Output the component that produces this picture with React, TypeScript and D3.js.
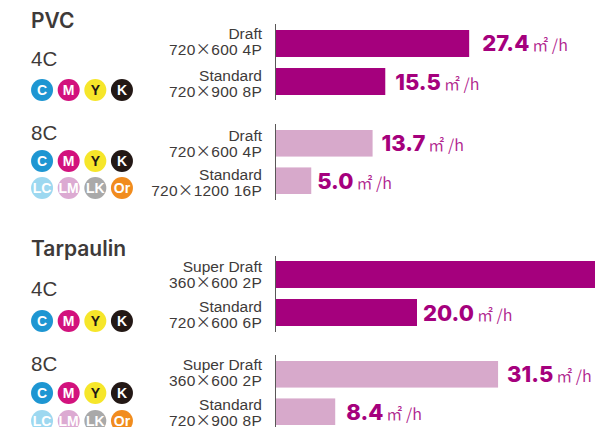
import * as d3 from "d3"

// Speeds in m2/h. The Tarpaulin 4C Super Draft bar runs off the page.
const rowLabels = [
  ["Draft", "720×600 4P"],
  ["Standard", "720×900 8P"],
  ["Draft", "720×600 4P"],
  ["Standard", "720×1200 16P"],
  ["Super Draft", "360×600 2P"],
  ["Standard", "720×600 6P"],
  ["Super Draft", "360×600 2P"],
  ["Standard", "720×900 8P"],
]
const speeds = [27.4, 15.5, 13.7, 5.0, 63.0, 20.0, 31.5, 8.4]
const clippedRows = [4]

const inkNames = ["C", "M", "Y", "K"]
const extraInkNames = ["LC", "LM", "LK", "Or"]
const inkColors: Record<string, string> = {
  C: "#1e96d2",
  M: "#d2127d",
  Y: "#f6e62a",
  K: "#231815",
  LC: "#9dd8f0",
  LM: "#dcaad2",
  LK: "#a9a9a9",
  Or: "#f18c1e",
}

const titleFont = "Inter, sans-serif"
const textFont = "'Liberation Sans', sans-serif"
const cjkFont = "'Noto Sans CJK JP', sans-serif"
const darkText = "#3e3a39"
const dark = "#a5007d"
const light = "#d7a9cb"

// one block per mode: title (optional), heading, chips, axis and two bars
const blocks = [
  { title: "PVC", titleY: 28, mode: "4C", modeY: 66, chipY: [90], axis: [24, 100], bars: [30, 95], rows: [0, 1], color: dark },
  { title: "", titleY: 0, mode: "8C", modeY: 140, chipY: [161, 188], axis: [124, 200], bars: [130, 194], rows: [2, 3], color: light },
  { title: "Tarpaulin", titleY: 256, mode: "4C", modeY: 296, chipY: [321], axis: [256, 332], bars: [261, 326], rows: [4, 5], color: dark },
  { title: "", titleY: 0, mode: "8C", modeY: 371, chipY: [393, 421], axis: [355, 427], bars: [361, 425], rows: [6, 7], color: light },
]
const labelBaselines = [39, 81, 141, 180, 272, 312, 370, 410]
const valueGaps = [13, 10, 9, 6, 0, 6, 9, 11]

const x = d3.scaleLinear().domain([0, 10]).range([276, 346.5])
const chipX = d3.scaleBand<number>().domain([0, 1, 2, 3]).range([31, 133]).paddingInner(0.17)

function Chips({ names, y }: { names: string[]; y: number }) {
  return (
    <g>
      {names.map((name, i) => (
        <g key={name}>
          <circle cx={chipX(i)! + chipX.bandwidth() / 2} cy={y} r={11} fill={inkColors[name]} />
          <text
            x={chipX(i)! + chipX.bandwidth() / 2}
            y={y + 5}
            textAnchor="middle"
            fontFamily={textFont}
            fontWeight="bold"
            fontSize={14}
            fill={name === "Y" ? "#231815" : "#fff"}
          >
            {name}
          </text>
        </g>
      ))}
    </g>
  )
}

// the × in the source is a full-width glyph
function Resolution({ label, y }: { label: string; y: number }) {
  const [a, b] = label.split("×")
  return (
    <text x={262} y={y} textAnchor="end" fontFamily={textFont} fontSize={15.5} letterSpacing={0.25} fill={darkText}>
      {a}
      <tspan fontFamily={cjkFont}>×</tspan>
      {b}
    </text>
  )
}

export default function App() {
  return (
    <svg width={595} height={427} style={{ position: "absolute", left: 0, top: 0 }}>
      <rect width={595} height={427} fill="#fff" />
      {blocks.map((b, i) => {
        const y = d3.scaleBand<number>().domain(b.rows).range(b.bars as [number, number]).paddingInner(0.29)
        return (
          <g key={i}>
            {b.title && (
              <text x={31} y={b.titleY} fontFamily={titleFont} fontWeight={600} fontSize={21} fill={darkText}>
                {b.title}
              </text>
            )}
            <text x={31} y={b.modeY} fontFamily={textFont} fontSize={20.5} fill={darkText}>
              {b.mode}
            </text>
            <Chips names={inkNames} y={b.chipY[0]} />
            {b.chipY[1] !== undefined && <Chips names={extraInkNames} y={b.chipY[1]} />}
            {b.rows.map((r) => {
              const end = x(speeds[r])
              const mid = y(r)! + y.bandwidth() / 2
              return (
                <g key={r}>
                  <rect x={x(0)} y={y(r)} width={end - x(0)} height={y.bandwidth()} fill={b.color} />
                  <text x={262} y={labelBaselines[r]} textAnchor="end" fontFamily={textFont} fontSize={15.5} fill={darkText}>
                    {rowLabels[r][0]}
                  </text>
                  <Resolution label={rowLabels[r][1]} y={labelBaselines[r] + 15.5} />
                  {!clippedRows.includes(r) && (
                    <text x={end + valueGaps[r]} y={mid + 8} fill={dark} fontFamily={titleFont}>
                      <tspan fontWeight={800} fontSize={22}>{d3.format(".1f")(speeds[r])}</tspan>
                      <tspan dx={3} fontSize={16} fontFamily={cjkFont} fillOpacity={0.85}>㎡ /h</tspan>
                    </text>
                  )}
                </g>
              )
            })}
            <line x1={275.5} x2={275.5} y1={b.axis[0]} y2={b.axis[1]} stroke="#595757" strokeWidth={1} />
          </g>
        )
      })}
    </svg>
  )
}
